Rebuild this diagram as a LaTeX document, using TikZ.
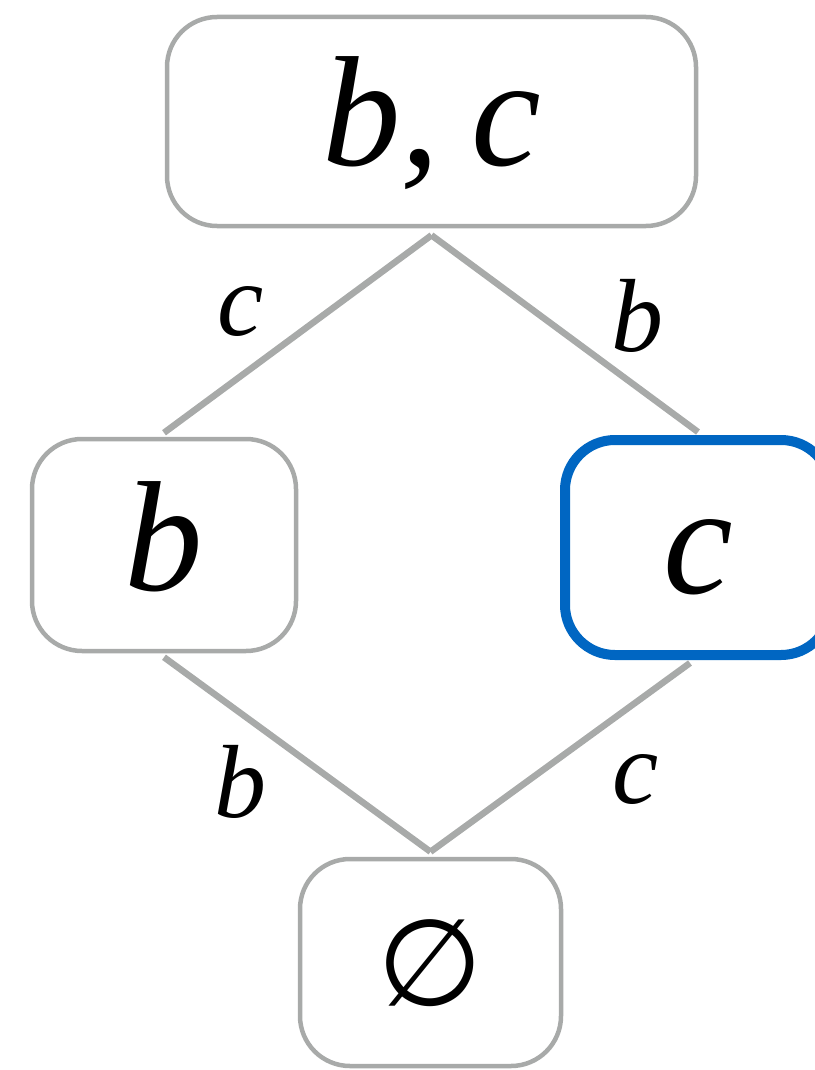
\documentclass[tikz,border=0pt]{standalone}
\usepackage{fontspec}
\setmainfont{Liberation Serif}
\newfontfamily\symfont{DejaVu Sans}
\definecolor{edgegray}{HTML}{A8AAA9}
\definecolor{selblue}{HTML}{0066C2}
\begin{document}
\begin{tikzpicture}[x=1pt,y=-1pt,
  box/.style={draw=edgegray,line width=4.5pt,rounded corners=50pt,inner sep=0pt,
    text depth=0pt,font=\fontsize{157}{180}\selectfont\itshape},
  selbox/.style={box,draw=selblue,line width=10pt},
  conn/.style={draw=edgegray,line width=6.5pt},
  elabel/.style={inner sep=0pt,font=\fontsize{104}{120}\selectfont\itshape}]
\useasboundingbox (0,0) rectangle (814,1070);
\node[box,minimum width=529pt,minimum height=209pt,text height=87pt] (top) at (431.5,121.5) {b,\kern-8pt{} c};
\node[box,minimum width=264pt,minimum height=212pt,text height=90pt] (left) at (164,545) {b};
\node[selbox,minimum width=266pt,minimum height=215pt,text height=91pt] (right) at (698,547.5) {c};
\node[box,minimum width=261pt,minimum height=207pt,text height=86pt,font=\fontsize{121}{130}\selectfont\symfont] (bot) at (430.5,962.5) {∅};
\coordinate (topA) at ([yshift=-7pt]top.south);
\coordinate (leftN) at ([yshift=4pt]left.north);
\coordinate (rightN) at ([yshift=3pt]right.north);
\coordinate (leftS) at ([yshift=-4pt]left.south);
\coordinate (rightS) at ([xshift=-8pt,yshift=-3pt]right.south);
\coordinate (botN) at ([yshift=5pt]bot.north);
\draw[conn] (topA) -- (leftN);
\draw[conn] (topA) -- (rightN);
\draw[conn] (leftS) -- (botN);
\draw[conn] (rightS) -- (botN);
\node[elabel] (l1) at (241,312) {c};
\node[elabel] (l2) at (637,316) {b};
\node[elabel] (l3) at (240,782) {b};
\node[elabel] (l4) at (636,779) {c};
\end{tikzpicture}
\end{document}
